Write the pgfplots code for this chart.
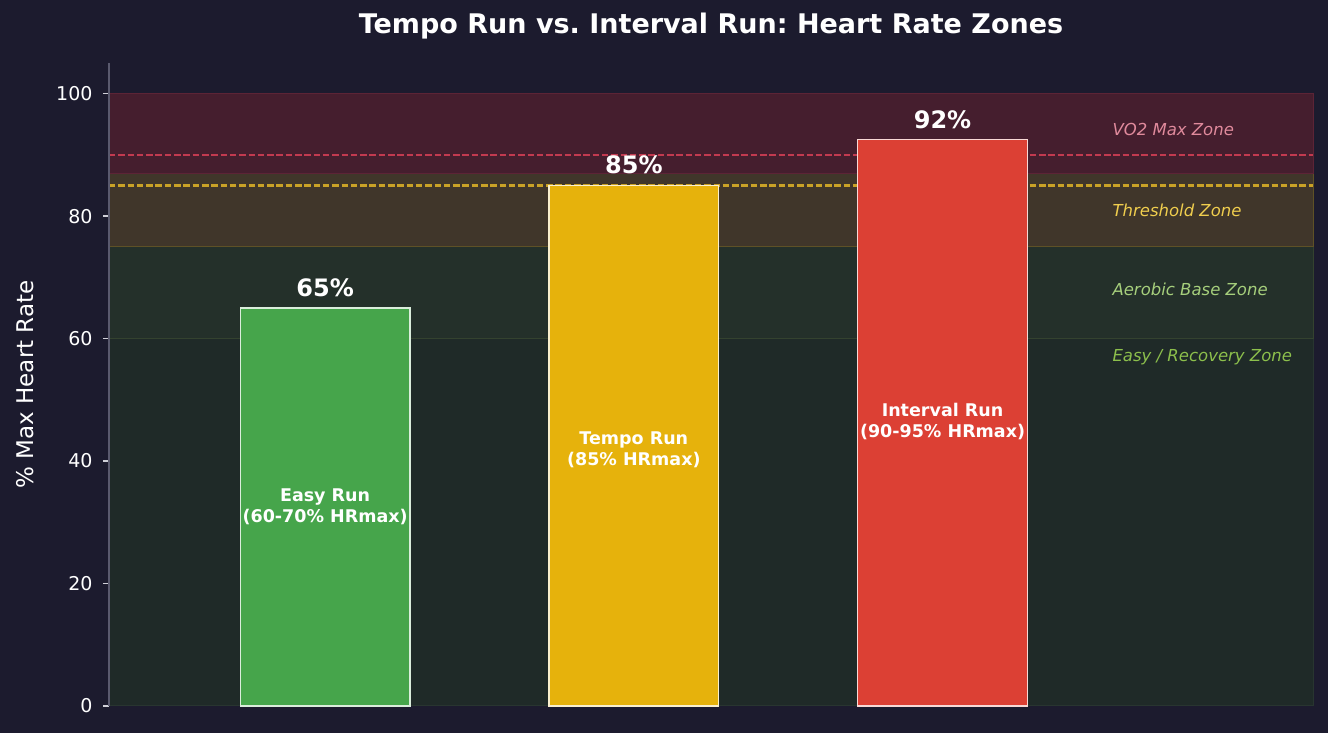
\documentclass[border=0pt]{standalone}
\usepackage{pgfplots}
\pgfplotsset{compat=1.18}
\usepackage{fontspec}
\setmainfont{DejaVu Sans}
\frenchspacing
\definecolor{bg}{HTML}{1C1B2E}
\definecolor{easyband}{HTML}{1F2A28}
\definecolor{aeroband}{HTML}{24302A}
\definecolor{thrband}{HTML}{40362A}
\definecolor{vo2band}{HTML}{451E2E}
\definecolor{vo2edge}{HTML}{5C2436}
\definecolor{thredge}{HTML}{5E5126}
\definecolor{aeroedge}{HTML}{34422F}
\definecolor{easyedge}{HTML}{283530}
\definecolor{gbar}{HTML}{46A54B}
\definecolor{ybarc}{HTML}{E6B20C}
\definecolor{rbar}{HTML}{DC4034}
\definecolor{rdash}{HTML}{C23A50}
\definecolor{ydash}{HTML}{C9A227}
\definecolor{vo2txt}{HTML}{E08A9C}
\definecolor{thrtxt}{HTML}{F0CE4E}
\definecolor{aerotxt}{HTML}{A6CF7C}
\definecolor{easytxt}{HTML}{8CBF4C}
\definecolor{spine}{HTML}{5A5A6E}
\definecolor{tickc}{HTML}{D0D0D8}
\begin{document}
\begin{tikzpicture}
\fill[bg] (-109pt,-27pt) rectangle (1219pt,706pt);
\begin{axis}[
  scale only axis, width=1204pt, height=643pt,
  xmin=-0.7, xmax=3.2, ymin=0, ymax=105,
  axis on top,
  axis lines*=left,
  x axis line style={draw=none},
  y axis line style={draw=spine, line width=1.2pt},
  xtick=\empty,
  ytick={0,20,40,60,80,100},
  tick align=outside,
  major tick length=6pt,
  tick style={draw=tickc, line width=1.2pt},
  yticklabel style={font=\fontsize{19}{22}\selectfont, text=white, xshift=-7pt},
  /pgf/number format/assume math mode=true,
  ylabel={\% Max Heart Rate},
  every axis y label/.style={at={(axis description cs:0,0.5)}, xshift=-84pt, rotate=90, anchor=center, font=\fontsize{23}{27}\selectfont, text=white},
  title={Tempo Run vs. Interval Run: Heart Rate Zones},
  every axis title/.style={at={(axis description cs:0.5,1)}, yshift=37pt, anchor=center, font=\bfseries\fontsize{27}{31}\selectfont, text=white},
  clip=false,
]
% zone bands
\addplot[draw=easyedge, fill=easyband, line width=1pt] coordinates {(-0.7,0) (3.2,0) (3.2,60) (-0.7,60)} -- cycle;
\addplot[draw=aeroedge, fill=aeroband, line width=1pt] coordinates {(-0.7,60) (3.2,60) (3.2,75) (-0.7,75)} -- cycle;
\addplot[draw=thredge, fill=thrband, line width=1pt] coordinates {(-0.7,75) (3.2,75) (3.2,87) (-0.7,87)} -- cycle;
\addplot[draw=vo2edge, fill=vo2band, line width=1pt] coordinates {(-0.7,87) (3.2,87) (3.2,100) (-0.7,100)} -- cycle;
% threshold lines
\addplot[rdash, line width=2.2pt, dash pattern=on 6.5pt off 2.8pt] coordinates {(-0.7,90) (3.2,90)};
\addplot[ydash, line width=2.2pt, dash pattern=on 6.5pt off 2.8pt] coordinates {(-0.7,85) (3.2,85)};
% bars
\addplot[ybar, bar width=0.55, bar shift=0pt, fill=gbar, draw=white!80!gbar, line width=1.3pt] coordinates {(0,65)};
\addplot[ybar, bar width=0.55, bar shift=0pt, fill=ybarc, draw=white!80!ybarc, line width=1.3pt] coordinates {(1,85)};
\addplot[ybar, bar width=0.55, bar shift=0pt, fill=rbar, draw=white!80!rbar, line width=1.3pt] coordinates {(2,92.5)};
% value labels
\node[font=\bfseries\fontsize{24}{28}\selectfont, text=white] at (axis cs:0,68.3) {65\%};
\node[font=\bfseries\fontsize{24}{28}\selectfont, text=white] at (axis cs:1,88.3) {85\%};
\node[font=\bfseries\fontsize{24}{28}\selectfont, text=white] at (axis cs:2,95.8) {92\%};
% inside labels
\node[font=\bfseries\fontsize{17.5}{21}\selectfont, text=white, align=center] at (axis cs:0,32.6) {Easy Run\\(60-70\% HRmax)};
\node[font=\bfseries\fontsize{17.5}{21}\selectfont, text=white, align=center] at (axis cs:1,41.9) {Tempo Run\\(85\% HRmax)};
\node[font=\bfseries\fontsize{17.5}{21}\selectfont, text=white, align=center] at (axis cs:2,46.4) {Interval Run\\(90-95\% HRmax)};
% zone labels
\node[anchor=west, inner sep=0pt, font=\itshape\fontsize{16.5}{20}\selectfont, text=vo2txt] at (axis cs:2.55,94.06) {VO2 Max Zone};
\node[anchor=west, inner sep=0pt, font=\itshape\fontsize{16.5}{20}\selectfont, text=thrtxt] at (axis cs:2.55,81.0) {Threshold Zone};
\node[anchor=west, inner sep=0pt, font=\itshape\fontsize{16.5}{20}\selectfont, text=aerotxt] at (axis cs:2.55,68.1) {Aerobic Base Zone};
\node[anchor=west, inner sep=0pt, font=\itshape\fontsize{16.5}{20}\selectfont, text=easytxt] at (axis cs:2.55,57.0) {Easy / Recovery Zone};
\end{axis}
\pgfresetboundingbox
\path[use as bounding box] (-109pt,-27pt) rectangle (1219pt,706pt);
\end{tikzpicture}
\end{document}
